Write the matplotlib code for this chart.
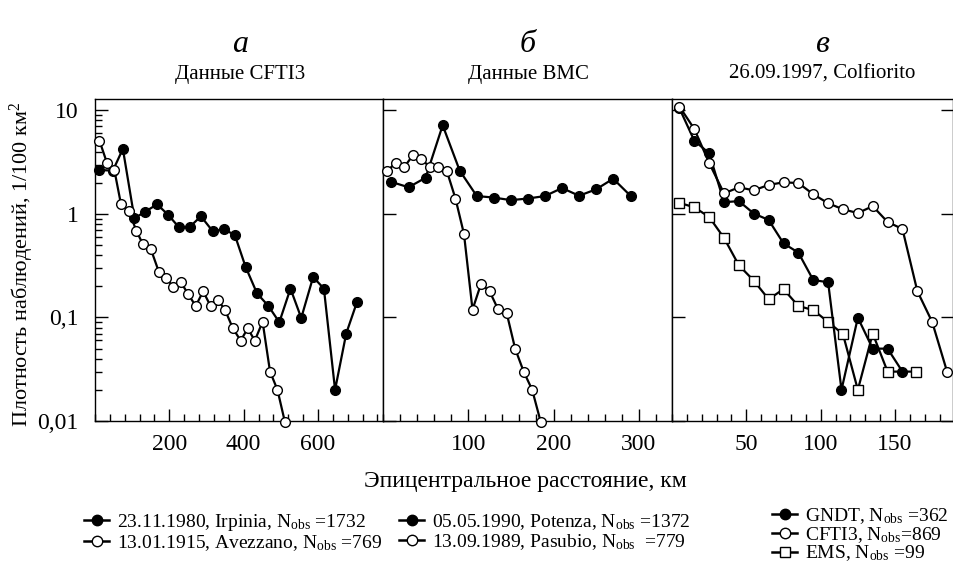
import matplotlib
matplotlib.use("Agg")
import matplotlib.pyplot as plt
from matplotlib.lines import Line2D
from matplotlib.ticker import LogLocator, MultipleLocator, NullFormatter, NullLocator

plt.rcParams['font.family'] = ['Liberation Serif', 'DejaVu Serif']
plt.rcParams['mathtext.fontset'] = 'custom'
plt.rcParams['mathtext.rm'] = 'Liberation Serif'
plt.rcParams['mathtext.it'] = 'Liberation Serif:italic'

# --- panel a: CFTI3 data ---
irp_x = [12, 48, 75, 106, 135, 167, 197, 225, 255, 285, 317, 346, 376, 405, 436,
         466, 496, 526, 555, 587, 616, 646, 676, 705]
irp_y = [2.66, 2.62, 4.25, 0.91, 1.05, 1.24, 0.98, 0.75, 0.75, 0.95, 0.68, 0.71, 0.63,
         0.31, 0.171, 0.13, 0.090, 0.19, 0.099, 0.246, 0.19, 0.020, 0.070, 0.141]
ave_x = [12, 32, 52, 70, 91, 111, 129, 150, 172, 192, 210, 231, 250, 271, 291, 311,
         330, 350, 371, 392, 411, 430, 451, 471, 491, 511]
ave_y = [5.1, 3.13, 2.66, 1.24, 1.08, 0.69, 0.51, 0.46, 0.275, 0.239, 0.199, 0.219,
         0.17, 0.129, 0.179, 0.129, 0.149, 0.118, 0.0786, 0.0597, 0.0786, 0.0597,
         0.091, 0.030, 0.020, 0.0098]

# --- panel b: BMC data ---
pot_x = [9, 30, 50, 70, 90, 110, 130, 150, 170, 190, 210, 230, 250, 270, 291]
pot_y = [2.05, 1.81, 2.24, 7.19, 2.62, 1.49, 1.44, 1.36, 1.41, 1.49, 1.78, 1.50,
         1.73, 2.19, 1.48]
pas_x = [5, 15, 25, 35, 45, 55, 65, 75, 85, 95, 105, 115, 125, 135, 145, 155, 165,
         175, 185]
pas_y = [2.60, 3.13, 2.84, 3.69, 3.40, 2.83, 2.83, 2.58, 1.41, 0.64, 0.119, 0.212,
         0.179, 0.120, 0.111, 0.050, 0.030, 0.020, 0.0098]

# --- panel c: Colfiorito ---
gndt_x = [5, 15, 25, 35, 45, 55, 65, 75, 85, 95, 105, 114, 125, 135, 145, 155]
gndt_y = [10.5, 5.1, 3.86, 1.30, 1.33, 1.01, 0.875, 0.52, 0.423, 0.23, 0.219, 0.020,
          0.0995, 0.050, 0.050, 0.030]
cfti_x = [5, 15, 25, 35, 45, 55, 65, 75, 85, 95, 105, 115, 125, 135, 145, 155, 165,
          175, 185]
cfti_y = [10.9, 6.63, 3.11, 1.58, 1.81, 1.69, 1.91, 2.02, 1.99, 1.55, 1.27, 1.11,
          1.02, 1.19, 0.837, 0.716, 0.180, 0.0905, 0.030]
ems_x = [5, 15, 25, 35, 45, 55, 65, 75, 85, 95, 105, 115, 125, 135, 145, 164]
ems_y = [1.28, 1.16, 0.935, 0.586, 0.319, 0.227, 0.150, 0.188, 0.129, 0.118, 0.0905,
         0.069, 0.020, 0.070, 0.030, 0.030]

xticks = [[200, 400, 600], [100, 200, 300], [50, 100, 150]]

fig = plt.figure(figsize=(9.54, 5.66), dpi=100)
W, H = 954.0, 566.0
top_px, bot_px = 99, 421
edges = [95, 383, 672, 953]
xlims = [(0, 775), (0, 339), (0, 189)]
axes = []
for i in range(3):
    ax = fig.add_axes([edges[i] / W, 1 - bot_px / H, (edges[i + 1] - edges[i]) / W,
                       (bot_px - top_px) / H])
    ax.set_yscale('log')
    ax.set_ylim(0.01, 12.9)
    ax.set_xlim(*xlims[i])
    for s in ax.spines.values():
        s.set_linewidth(1.0)
    axes.append(ax)

ln = dict(color='black', lw=1.6, ms=7, mew=1.0, mec='black', clip_on=False)

axes[0].plot(irp_x, irp_y, marker='o', mfc='black', zorder=3, **ln)
axes[0].plot(ave_x, ave_y, marker='o', mfc='white', zorder=4, **ln)
axes[1].plot(pot_x, pot_y, marker='o', mfc='black', zorder=3, **ln)
axes[1].plot(pas_x, pas_y, marker='o', mfc='white', zorder=4, **ln)
axes[2].plot(ems_x, ems_y, marker='s', mfc='white', zorder=3, **dict(ln, ms=6.5))
axes[2].plot(gndt_x, gndt_y, marker='o', mfc='black', zorder=4, **ln)
axes[2].plot(cfti_x, cfti_y, marker='o', mfc='white', zorder=5, **ln)

minor = [40, 20, 10]
for i, ax in enumerate(axes):
    ax.set_xticks(xticks[i])
    ax.set_xticklabels([str(t) for t in xticks[i]])
    ax.xaxis.set_minor_locator(MultipleLocator(minor[i]))
    ax.tick_params(axis='both', which='major', direction='in', length=9, width=1,
                   labelsize=17, top=False, right=False)
    ax.tick_params(axis='both', which='minor', direction='in', length=5, width=1,
                   top=False, right=False)
    ax.set_yticks([0.01, 0.1, 1, 10])
    if i == 0:
        ax.yaxis.set_minor_locator(LogLocator(base=10, subs=range(2, 10), numticks=10))
        ax.yaxis.set_minor_formatter(NullFormatter())
        ax.set_yticklabels(['0,01', '0,1', '1', '10'])
        ax.tick_params(axis='y', which='major', pad=12)
    else:
        ax.yaxis.set_minor_locator(NullLocator())
        ax.tick_params(axis='y', labelleft=False)
    ax.tick_params(axis='x', which='major', pad=9)
axes[2].tick_params(axis='y', which='major', right=True)

# panel letters and headers
letters = ['а', 'б', 'в']
heads = ['Данные CFTI3', 'Данные ВМС', '26.09.1997, Colfiorito']
head_x = [240, 528, 822]
for i in range(3):
    fig.text(head_x[i] / W, 1 - 45 / H, letters[i], ha='center', va='center',
             fontsize=23, style='italic')
    fig.text(head_x[i] / W, 1 - 74 / H, heads[i], ha='center', va='center', fontsize=15)

fig.text(525 / W, 1 - 481 / H, 'Эпицентральное расстояние, км', ha='center',
         va='center', fontsize=17)
fig.text(22 / W, 1 - 264 / H, 'Плотность наблюдений, 1/100 км$^2$', ha='center',
         va='center', rotation=90, fontsize=16)

def h(marker, fc):
    return Line2D([], [], color='black', lw=1.8, marker=marker, ms=7.5, mfc=fc, mec='black')

sub = r'N$_{\mathregular{obs}}$'
leg_kw = dict(loc='upper left', frameon=False, fontsize=14, handlelength=1.3,
              handletextpad=0.4, labelspacing=0.0, borderpad=0, borderaxespad=0)
fig.legend([h('o', 'black'), h('o', 'white')],
           ['23.11.1980, Irpinia, ' + sub + ' =1732',
            '13.01.1915, Avezzano, ' + sub + ' =769'],
           bbox_to_anchor=(84 / W, 1 - 512 / H), **leg_kw)
fig.legend([h('o', 'black'), h('o', 'white')],
           ['05.05.1990, Potenza, ' + sub + ' =1372',
            '13.09.1989, Pasubio, ' + sub + '  =779'],
           bbox_to_anchor=(399 / W, 1 - 512 / H), **leg_kw)
fig.legend([h('o', 'black'), h('o', 'white'), h('s', 'white')],
           ['GNDT, ' + sub + ' =362', 'CFTI3, ' + sub + '=869', 'EMS, ' + sub + ' =99'],
           bbox_to_anchor=(772 / W, 1 - 506 / H), **dict(leg_kw, labelspacing=-0.05))

fig.savefig('out.png', dpi=100)
